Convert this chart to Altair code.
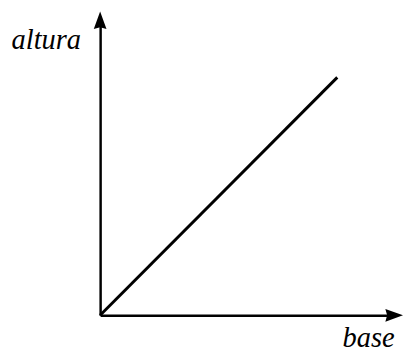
import altair as alt
import pandas as pd

# data
base_vals = [0.0, 1.0]
altura_vals = [0.0, 1.0]
axis_max = [1.24]

line_df = pd.DataFrame({"base": base_vals, "altura": altura_vals})
xarrow_df = pd.DataFrame({"base": axis_max, "altura": [0.0]})
yarrow_df = pd.DataFrame({"base": [0.0], "altura": axis_max})

xs = alt.Scale(domain=[0, axis_max[0]], nice=False, zero=False)
ys = alt.Scale(domain=[0, axis_max[0]], nice=False, zero=False)

title_font = "Liberation Serif"

line = alt.Chart(line_df).mark_line(color="black", strokeWidth=3, strokeCap="butt").encode(
    x=alt.X("base:Q", scale=xs, axis=alt.Axis(
        title="base", domain=True, domainColor="black", domainWidth=2.5,
        ticks=False, labels=False, grid=False,
        titleFont=title_font, titleFontStyle="italic", titleFontWeight="normal",
        titleFontSize=29, titleColor="black",
        titleAlign="right", titleBaseline="alphabetic",
        titleX=300, titleY=32, titleAngle=0)),
    y=alt.Y("altura:Q", scale=ys, axis=alt.Axis(
        title="altura", domain=True, domainColor="black", domainWidth=2.5,
        ticks=False, labels=False, grid=False,
        titleFont=title_font, titleFontStyle="italic", titleFontWeight="normal",
        titleFontSize=29, titleColor="black",
        titleAlign="right", titleBaseline="alphabetic",
        titleX=-20, titleY=29, titleAngle=0)),
)

xarrow = alt.Chart(xarrow_df).mark_point(
    shape="M1,0L-1,-0.72L-0.8,0L-1,0.72Z", filled=True, color="black", opacity=1, size=324
).encode(x=alt.X("base:Q", scale=xs), y=alt.Y("altura:Q", scale=ys))

yarrow = alt.Chart(yarrow_df).mark_point(
    shape="M0,-1L-0.72,1L0,0.8L0.72,1Z", filled=True, color="black", opacity=1, size=324
).encode(x=alt.X("base:Q", scale=xs), y=alt.Y("altura:Q", scale=ys))

chart = alt.layer(line, xarrow, yarrow).properties(
    width=300, height=301,
    autosize=alt.AutoSizeParams(type="none"),
    padding={"left": 94, "top": 9, "right": 9, "bottom": 38},
).configure(font=title_font).configure_view(stroke=None)

chart.save("out.html", embed_options={"renderer": "svg", "actions": False})
